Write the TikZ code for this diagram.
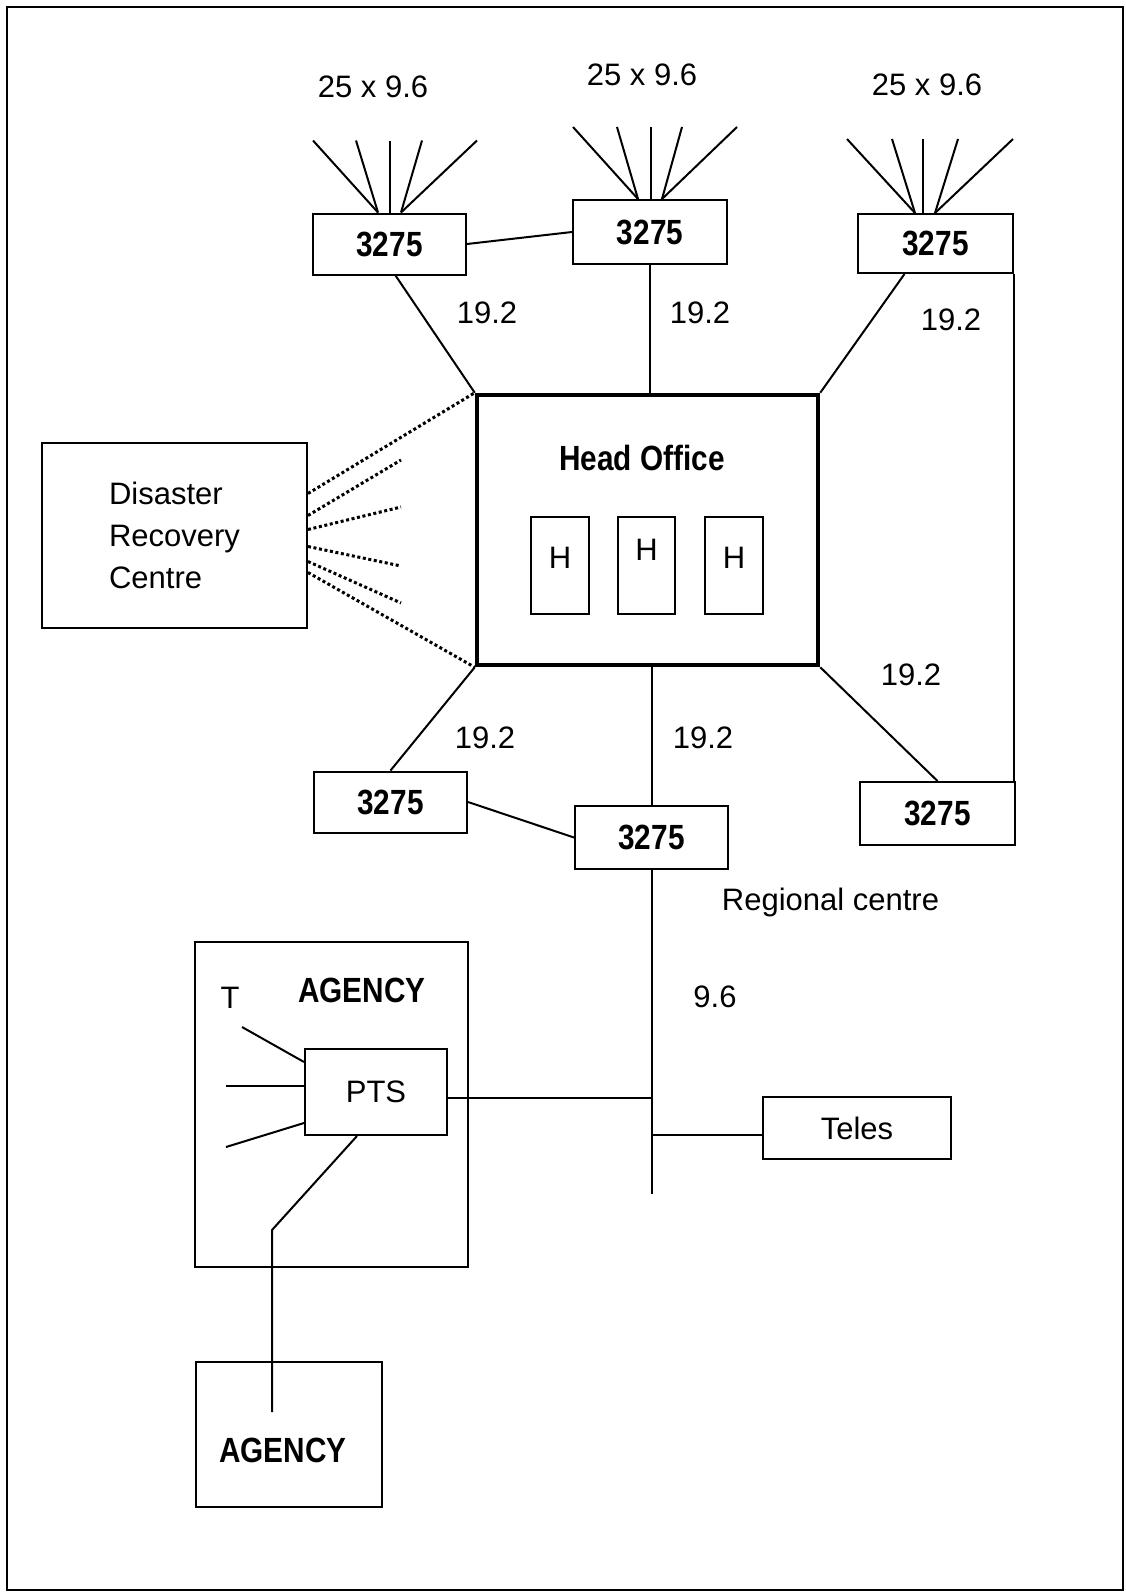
\documentclass[tikz,border=0pt]{standalone}
\usepackage{fontspec}
\setmainfont{Liberation Sans}
\newfontfamily\heavyfont{Liberation Sans Bold}[FakeStretch=0.85]
\usetikzlibrary{positioning,calc}

\tikzset{
  box/.style={draw, line width=2pt, inner sep=0pt},
  ctrl/.style={box, minimum width=153pt, minimum height=61pt,
    font=\heavyfont\fontsize{35}{40}\selectfont},
  hbox/.style={box, minimum width=58pt, minimum height=97pt},
  lbl/.style={inner sep=0pt, font=\fontsize{31}{36}\selectfont},
  heavy/.style={inner sep=0pt, font=\heavyfont\fontsize{35}{40}\selectfont},
  link/.style={line width=2pt},
  drlink/.style={line width=3pt, dash pattern=on 3pt off 2.6pt}
}

\begin{document}
\begin{tikzpicture}[x=1pt, y=-1pt]
  \useasboundingbox (0,0) rectangle (1125,1592);
  \draw[line width=2.5pt] (7,7) rectangle (1123,1590);

  % 3275 controllers
  \node[ctrl] (tl) at (389.5,244) {3275};
  \node[ctrl, minimum width=154pt, minimum height=64pt] (tm) at (650,232) {3275};
  \node[ctrl, minimum width=155pt, minimum height=59pt] (tr) at (935.5,243.5) {3275};
  \node[ctrl] (bl) at (390.5,802) {3275};
  \node[ctrl, minimum height=63pt] (bm) at (651.5,837.5) {3275};
  \node[ctrl, minimum width=155pt, minimum height=63pt] (br) at (937.5,813.5) {3275};

  % head office
  \node[box, line width=4.5pt, minimum width=341pt, minimum height=270pt] (ho) at (647.5,530) {};
  \node[heavy] (holbl) at (642,458) {Head Office};
  \node[hbox] (h1) at (560,565.5) {};
  \node[hbox, minimum width=57pt] (h2) at (646.5,565.5) {};
  \node[hbox] (h3) at (734,565.5) {};
  \node[lbl] (h1lbl) at (560,558) {H};
  \node[lbl] (h2lbl) at (646.5,550) {H};
  \node[lbl] (h3lbl) at (734,558) {H};

  % disaster recovery
  \node[box, minimum width=265pt, minimum height=185pt, align=left,
    font=\fontsize{31}{42}\selectfont] (drc) at (174.5,535.5)
    {Disaster\\Recovery\\Centre};

  % fans
  \node[lbl] (f1) at (373,87) {25 x 9.6};
  \node[lbl] (f2) at (642,75) {25 x 9.6};
  \node[lbl] (f3) at (927,85) {25 x 9.6};
  \foreach \s/\d in {-11.5/-65, -11.5/-22, 0.5/0, 11.5/21, 11.5/76}
    \draw[link] ($(tl.north)+(\s,0)$) -- ++(\d,-72);
  \foreach \s/\d in {-12/-65, -12/-21, 1/0, 12/20, 12/75}
    \draw[link] ($(tm.north)+(\s,0)$) -- ++(\d,-72);
  \foreach \s/\d in {-20.5/-68, -20.5/-23, -12.5/0, -0.5/23, -0.5/78}
    \draw[link] ($(tr.north)+(\s,0)$) -- ++(\d,-74);

  % trunk lines
  \draw[link] ($(tl.south)+(6,0)$) -- (ho.north west);
  \draw[link] (tm.south) -- (tm.south |- ho.north);
  \draw[link] ($(tr.south)+(-31,0)$) -- (ho.north east);
  \draw[link] (tl.east) -- (tm.west);
  \draw[link] (tr.south east) -- (tr.south east |- br.north);
  \draw[link] (ho.south west) -- (bl.north);
  \draw[link] (bm.north |- ho.south) -- (bm.north);
  \draw[link] (ho.south east) -- (br.north);
  \draw[link] (bl.east) -- (bm.west);
  \node[lbl] (r1) at (487,313) {19.2};
  \node[lbl] (r2) at (700,313) {19.2};
  \node[lbl] (r3) at (951,320) {19.2};
  \node[lbl] (r4) at (485,738) {19.2};
  \node[lbl] (r5) at (703,738) {19.2};
  \node[lbl] (r6) at (911,675) {19.2};

  % backup lines
  \coordinate (d2) at (401,460);
  \coordinate (d3) at (401,507);
  \coordinate (d4) at (401,566);
  \coordinate (d5) at (401,603);
  \draw[drlink] ($(drc.east)+(0,-42)$) -- (ho.north west);
  \draw[drlink] ($(drc.east)+(0,-20)$) -- (d2);
  \draw[drlink] ($(drc.east)+(0,-6)$) -- (d3);
  \draw[drlink] ($(drc.east)+(0,11)$) -- (d4);
  \draw[drlink] ($(drc.east)+(0,26)$) -- (d5);
  \draw[drlink] ($(drc.east)+(0,37)$) -- (ho.south west);

  % regional centre
  \node[lbl] (reg) at (830.5,902) {Regional centre};
  \node[lbl] (rate) at (715,997) {9.6};
  \coordinate (busend) at (652,1194);
  \draw[link] (bm.south) -- (bm.south |- busend);
  \node[box, minimum width=188pt, minimum height=62pt, font=\fontsize{31}{36}\selectfont]
    (teles) at (857,1128) {Teles};
  \coordinate (telesin) at ($(teles.west)+(0,7)$);
  \draw[link] (telesin) -- (telesin -| busend);

  % agency
  \node[box, minimum width=273pt, minimum height=325pt] (ag) at (331.5,1104.5) {};
  \node[heavy] (aglbl) at (362,990) {AGENCY};
  \node[lbl] (tlbl) at (230,998) {T};
  \node[box, minimum width=142pt, minimum height=86pt, font=\fontsize{31}{36}\selectfont]
    (pts) at (376,1092) {PTS};
  \coordinate (ptsout) at ($(pts.east)+(0,6)$);
  \draw[link] (ptsout) -- (ptsout -| busend);
  \draw[link] ($(pts.west)+(0,-30)$) -- ++(-62,-35);
  \draw[link] ($(pts.west)+(0,-6)$) -- ++(-78,0);
  \draw[link] ($(pts.west)+(0,31)$) -- ++(-78,24);

  \node[box, minimum width=186pt, minimum height=145pt] (ag2) at (289,1434.5) {};
  \node[heavy] (ag2lbl) at (283,1450) {AGENCY};
  \coordinate (tail) at (272,1412);
  \draw[link] ($(pts.south)+(-19,0)$) -- (272,1230) -- (tail);
\end{tikzpicture}
\end{document}
